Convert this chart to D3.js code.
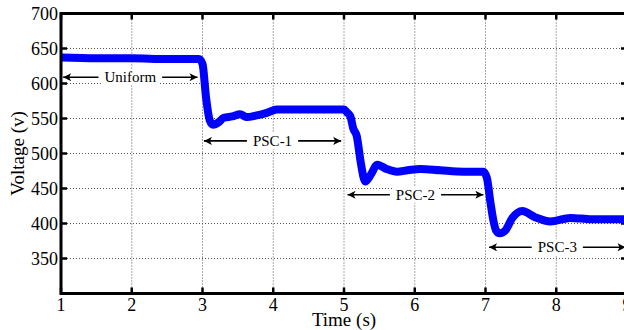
<!DOCTYPE html>
<html>
<head>
<meta charset="utf-8">
<script src="https://cdn.jsdelivr.net/npm/d3@7"></script>
<style>
  body { margin: 0; background: #fff; }
  text { font-family: "Liberation Serif", "Times New Roman", serif; }
</style>
</head>
<body>
<div id="chart"></div>
<script>
// time (s) and PV voltage (v)
const time = [1, 1.5, 2, 2.5, 2.95, 3.0, 3.05, 3.1, 3.15, 3.22, 3.3, 3.42, 3.53, 3.63, 3.75, 3.91, 4.05, 4.5, 5.0, 5.04, 5.09, 5.13, 5.18, 5.24, 5.3, 5.38, 5.47, 5.6, 5.75, 5.9, 6.08, 6.36, 6.69, 6.97, 7.02, 7.07, 7.11, 7.15, 7.2, 7.28, 7.38, 7.52, 7.7, 7.92, 8.2, 8.5, 9.0];
const voltage = [637, 636, 636, 635, 635, 628, 580, 548, 541, 544, 551, 553, 556, 552, 554, 558, 563, 563, 563, 559, 553, 536, 525, 485, 460, 470, 484, 478, 474, 476, 478, 476, 474, 474, 465, 430, 405, 390, 386, 390, 408, 418, 409, 403, 408, 406, 406];

const xTicks = [1, 2, 3, 4, 5, 6, 7, 8, 9];
const yTicks = [300, 350, 400, 450, 500, 550, 600, 650, 700];
const yTickLabels = ['', '350', '400', '450', '500', '550', '600', '650', '700'];

// double-headed arrows marking each shading condition
const regionNames = ['Uniform', 'PSC-1', 'PSC-2', 'PSC-3'];
const regionStart = [1.03, 3.02, 5.05, 7.05];
const regionEnd = [2.93, 4.96, 6.97, 8.98];
const regionLevel = [609, 518, 441, 366];

const width = 624, height = 330;
const margin = { left: 61, right: -3, top: 13.5, bottom: 36.5 };

const svg = d3.select('#chart').append('svg')
  .attr('width', width)
  .attr('height', height);

const x = d3.scaleLinear().domain([1, 9]).range([margin.left, width - margin.right]);
const y = d3.scaleLinear().domain([300, 700]).range([height - margin.bottom, margin.top]);

const defs = svg.append('defs');
['start', 'end'].forEach(k => {
  defs.append('marker')
    .attr('id', 'arrow-' + k)
    .attr('viewBox', '0 0 10 10')
    .attr('refX', 10).attr('refY', 5)
    .attr('markerWidth', 11).attr('markerHeight', 8)
    .attr('markerUnits', 'userSpaceOnUse')
    .attr('orient', k === 'start' ? 'auto-start-reverse' : 'auto')
    .append('path')
    .attr('d', 'M0,0 L10,5 L0,10 L2.5,5 Z')
    .attr('fill', '#000');
});

// dotted grid
const grid = svg.append('g');
grid.selectAll('.gx').data(xTicks.slice(1, -1)).enter().append('line')
  .attr('x1', d => x(d)).attr('x2', d => x(d))
  .attr('y1', y(700)).attr('y2', y(300))
  .attr('stroke', '#555').attr('stroke-width', 1).attr('stroke-dasharray', '1,2');
grid.selectAll('.gy').data(yTicks.slice(1, -1)).enter().append('line')
  .attr('x1', x(1)).attr('x2', x(9))
  .attr('y1', d => y(d)).attr('y2', d => y(d))
  .attr('stroke', '#555').attr('stroke-width', 1).attr('stroke-dasharray', '1,2');

// inward ticks on all four sides
const ticks = svg.append('g').attr('stroke', '#000').attr('stroke-width', 2.5);
xTicks.forEach(d => {
  ticks.append('line').attr('x1', x(d)).attr('x2', x(d)).attr('y1', y(300)).attr('y2', y(300) - 6);
  ticks.append('line').attr('x1', x(d)).attr('x2', x(d)).attr('y1', y(700)).attr('y2', y(700) + 6);
});
yTicks.forEach(d => {
  ticks.append('line').attr('x1', x(1)).attr('x2', x(1) + 6).attr('y1', y(d)).attr('y2', y(d));
  ticks.append('line').attr('x1', x(9)).attr('x2', x(9) - 6).attr('y1', y(d)).attr('y2', y(d));
});

// voltage trace
const data = time.map((t, i) => ({ t, v: voltage[i] }));
svg.append('path')
  .datum(data)
  .attr('fill', 'none')
  .attr('stroke', '#0000ff')
  .attr('stroke-width', 8)
  .attr('stroke-linejoin', 'round')
  .attr('d', d3.line().x(d => x(d.t)).y(d => y(d.v)).curve(d3.curveMonotoneX));

// region annotations
regionNames.forEach((name, i) => {
  const yy = y(regionLevel[i]);
  const x0 = x(regionStart[i]), x1 = x(regionEnd[i]);
  const cx = (x0 + x1) / 2;
  const g = svg.append('g');
  const label = g.append('text')
    .attr('x', cx).attr('y', yy + 5)
    .attr('text-anchor', 'middle')
    .attr('font-size', 15)
    .text(name);
  const w = label.node().getComputedTextLength();
  g.insert('rect', 'text')
    .attr('x', cx - w / 2 - 3).attr('y', yy - 8)
    .attr('width', w + 6).attr('height', 16)
    .attr('fill', '#fff');
  g.append('line')
    .attr('x1', cx - w / 2 - 6).attr('x2', x0)
    .attr('y1', yy).attr('y2', yy)
    .attr('stroke', '#000').attr('stroke-width', 1.6)
    .attr('marker-end', 'url(#arrow-end)');
  g.append('line')
    .attr('x1', cx + w / 2 + 6).attr('x2', x1)
    .attr('y1', yy).attr('y2', yy)
    .attr('stroke', '#000').attr('stroke-width', 1.6)
    .attr('marker-end', 'url(#arrow-end)');
});

// frame
svg.append('rect')
  .attr('x', x(1)).attr('y', y(700))
  .attr('width', x(9) - x(1)).attr('height', y(300) - y(700))
  .attr('fill', 'none').attr('stroke', '#000').attr('stroke-width', 3);

// tick labels
svg.selectAll('.xl').data(xTicks).enter().append('text')
  .attr('x', d => x(d)).attr('y', y(300) + 17)
  .attr('text-anchor', 'middle').attr('font-size', 18)
  .text(d => d);
svg.selectAll('.yl').data(yTicks).enter().append('text')
  .attr('x', x(1) - 3).attr('y', d => y(d) + 6)
  .attr('text-anchor', 'end').attr('font-size', 18)
  .text((d, i) => yTickLabels[i]);

// axis titles
svg.append('text')
  .attr('x', (x(1) + x(9)) / 2).attr('y', 326)
  .attr('text-anchor', 'middle').attr('font-size', 19)
  .text('Time (s)');
svg.append('text')
  .attr('transform', `translate(24,${(y(300) + y(700)) / 2}) rotate(-90)`)
  .attr('text-anchor', 'middle').attr('font-size', 19)
  .text('Voltage (v)');
</script>
</body>
</html>
